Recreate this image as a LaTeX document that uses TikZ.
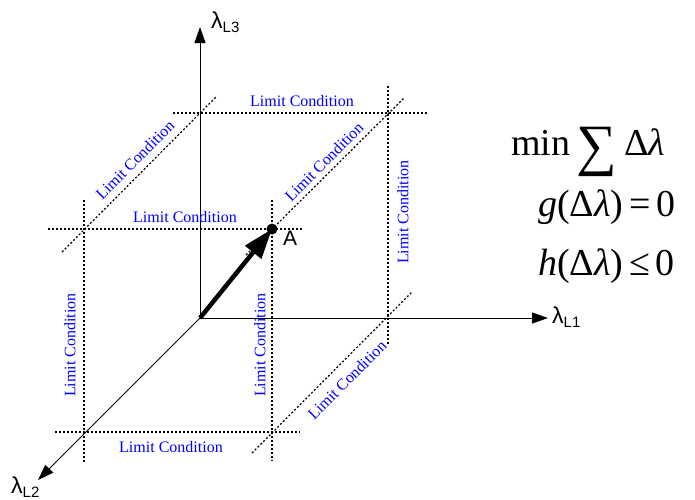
\documentclass[tikz,border=0pt]{standalone}
\usepackage{fontspec}
\setmainfont{Liberation Serif}
\newfontfamily\ejefont{Liberation Sans}
\usetikzlibrary{arrows.meta}

\tikzset{
  limite/.style={line width=1.2pt, dash pattern=on 2pt off 2pt},
  eje/.style={line width=1pt, -{Triangle[length=16pt,width=11pt]}},
  cond/.style={text=blue, font=\fontsize{16}{16}\selectfont, inner sep=0pt},
  etiq/.style={font=\ejefont\fontsize{23}{23}\selectfont, inner sep=0pt, anchor=base west},
  formula/.style={font=\fontsize{38}{42}\selectfont, inner sep=0pt, anchor=base west}
}
\newcommand{\lam}[1]{λ\raisebox{-4pt}{\fontsize{15}{15}\selectfont #1}}

\begin{document}
\begin{tikzpicture}[x=1pt, y=-1pt]
  \useasboundingbox (0,0) rectangle (695,499);

  \coordinate (O) at (200,318);
  \coordinate (A) at (272,229);
  \coordinate (X1) at (548,318);
  \coordinate (X2) at (38,480);
  \coordinate (X3) at (200,27);

  % Condiciones limite
  \draw[limite] (173,113) -- (427,113);
  \draw[limite] (388,86) -- (388,345);
  \draw[limite] (48,229) -- (302,229);
  \draw[limite] (84,200) -- (84,462);
  \draw[limite] (272,200) -- (272,461);
  \draw[limite] (55,432) -- (300,432);
  \draw[limite] (62,252) -- (216,97);
  \draw[limite] (246,255) -- (404,98);
  \draw[limite] (252,453) -- (412,292);

  % Ejes
  \draw[eje] (O) -- (X3);
  \draw[eje] (O) -- (X1);
  \draw[eje] (O) -- (X2);
  \node[etiq] (l3) at (211,28) {\lam{L3}};
  \node[etiq] (l1) at (552,323) {\lam{L1}};
  \node[etiq] (l2) at (11,493) {\lam{L2}};

  % Vector OA
  \draw[line width=4.5pt, -{Triangle[length=30pt,width=20pt]}] (O) -- (A);
  \fill (A) circle (5.5pt);
  \node[etiq, font=\ejefont\fontsize{21}{21}\selectfont] (a) at (283,245) {A};

  % Textos
  \node[cond] (c1) at (302,101) {Limit Condition};
  \node[cond] (c2) at (185,217) {Limit Condition};
  \node[cond] (c3) at (171,447) {Limit Condition};
  \node[cond, rotate=45] (c4) at (135,160) {Limit Condition};
  \node[cond, rotate=45] (c5) at (324,162) {Limit Condition};
  \node[cond, rotate=45] (c6) at (347,380) {Limit Condition};
  \node[cond, rotate=90] (c7) at (70,345) {Limit Condition};
  \node[cond, rotate=90] (c8) at (260,345) {Limit Condition};
  \node[cond, rotate=90] (c9) at (403,212) {Limit Condition};

  \node[formula] (f1) at (511,155) {min\hspace{0.15em}\raisebox{-9pt}{\scalebox{1.5}{∑}}\hspace{0.2em}Δ\textit{λ}};
  \node[formula] (f2) at (538,216) {\textit{g}(Δ\textit{λ})\hspace{0.15em}=\hspace{0.15em}0};
  \node[formula] (f3) at (538,275) {\textit{h}(Δ\textit{λ})\hspace{0.15em}≤\hspace{0.15em}0};
\end{tikzpicture}
\end{document}
